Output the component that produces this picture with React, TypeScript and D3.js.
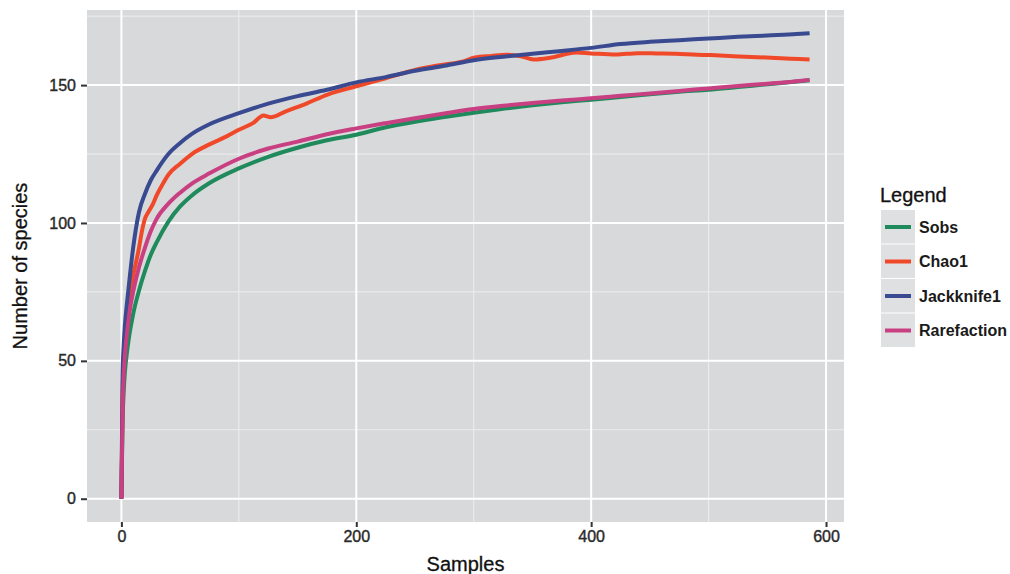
import React, { useEffect, useRef } from "react";
import * as d3 from "d3";

// sample positions shared by the smooth curves
const samples = [0, 1, 2, 3, 5, 7, 10, 15, 20, 25, 30, 40, 50, 60, 75, 100, 125, 150, 175, 200, 225, 250, 275, 300, 325, 350, 375, 400, 425, 450, 475, 500, 525, 550, 575, 586];

const sobs = [0, 28, 39, 46, 54, 60, 67, 75.5, 82.5, 88.5, 93, 100.5, 106, 110, 114.5, 119.8, 124, 127.3, 130, 132, 134.7, 136.7, 138.4, 140, 141.4, 142.7, 143.8, 144.7, 145.7, 146.7, 147.6, 148.3, 149.3, 150.3, 151.3, 151.8];

const rarefaction = [0, 32, 45, 52, 61, 68, 75, 84, 91, 97, 101.5, 107, 111, 114.3, 118, 123.3, 127, 129.5, 132.2, 134.3, 136.2, 138, 139.7, 141.3, 142.5, 143.5, 144.4, 145.2, 146.1, 147, 147.9, 148.8, 149.7, 150.5, 151.4, 151.9];

const jackknife1 = [0, 45, 56, 63, 72, 80, 91, 104, 110.5, 115.5, 119, 125, 129, 132.3, 135.8, 139.8, 143.3, 146, 148.3, 151, 152.9, 155.2, 157, 159, 160.3, 161.4, 162.4, 163.5, 164.9, 165.7, 166.3, 166.9, 167.5, 168, 168.5, 168.8];

// Chao1 is jagged, read at its own positions
const chaoSamples = [0, 1, 2, 3, 5, 7, 10, 15, 17, 20, 23, 27, 30, 35, 40, 50, 60, 75, 90, 100, 112, 121, 127, 140, 158, 175, 200, 225, 250, 271, 290, 301, 315, 328, 340, 351, 366, 387, 400, 421, 440, 456, 472, 490, 501, 521, 549, 570, 586];
const chao1 = [0, 38, 50, 57, 67, 74, 81, 91, 96, 101.5, 104, 107, 110, 114, 117.5, 121.5, 125, 128.5, 131.5, 133.8, 136.2, 139, 138.3, 140.5, 143.4, 146.5, 149.6, 152.5, 155.5, 157.2, 158.5, 160, 160.6, 161, 160.5, 159.3, 160, 161.8, 161.5, 161.1, 161.6, 161.5, 161.4, 161, 160.9, 160.5, 160, 159.6, 159.3];

const seriesNames = ["Sobs", "Chao1", "Jackknife1", "Rarefaction"];
const seriesColors = ["#1f8a5b", "#f0492a", "#3a4a90", "#c83f82"];

const xTicks = [0, 200, 400, 600];
const xMinor = [100, 300, 500];
const yTicks = [0, 50, 100, 150];
const yMinor = [25, 75, 125, 175];

const FONT = "'Liberation Sans', Arial, Helvetica, sans-serif";

export default function App() {
  const svgRef = useRef<SVGSVGElement>(null);

  useEffect(() => {
    const svg = d3.select(svgRef.current);
    svg.selectAll("*").remove();

    const left = 87, right = 844, top = 10, bottom = 522;
    const xMax = 586, yMax = 168.8;

    const x = d3.scaleLinear().domain([-0.05 * xMax, 1.05 * xMax]).range([left, right]);
    const y = d3.scaleLinear().domain([-0.05 * yMax, 1.05 * yMax]).range([bottom, top]);

    svg.append("rect").attr("width", 1010).attr("height", 574).attr("fill", "#fff");
    svg.append("rect")
      .attr("x", left).attr("y", top)
      .attr("width", right - left).attr("height", bottom - top)
      .attr("fill", "#d8d9db");

    const grid = svg.append("g");
    grid.selectAll(".ymin").data(yMinor).join("line")
      .attr("x1", left).attr("x2", right)
      .attr("y1", (d) => y(d)).attr("y2", (d) => y(d))
      .attr("stroke", "#eeeeef").attr("stroke-width", 1);
    grid.selectAll(".xmin").data(xMinor).join("line")
      .attr("y1", top).attr("y2", bottom)
      .attr("x1", (d) => x(d)).attr("x2", (d) => x(d))
      .attr("stroke", "#eeeeef").attr("stroke-width", 1);
    grid.selectAll(".ymaj").data(yTicks).join("line")
      .attr("x1", left).attr("x2", right)
      .attr("y1", (d) => y(d)).attr("y2", (d) => y(d))
      .attr("stroke", "#fff").attr("stroke-width", 2);
    grid.selectAll(".xmaj").data(xTicks).join("line")
      .attr("y1", top).attr("y2", bottom)
      .attr("x1", (d) => x(d)).attr("x2", (d) => x(d))
      .attr("stroke", "#fff").attr("stroke-width", 2);

    // axes
    const xAxis = svg.append("g")
      .attr("transform", `translate(0,${bottom})`)
      .call(d3.axisBottom(x).tickValues(xTicks).tickSize(5).tickPadding(4));
    const yAxis = svg.append("g")
      .attr("transform", `translate(${left},0)`)
      .call(d3.axisLeft(y).tickValues(yTicks).tickSize(6).tickPadding(5));
    [xAxis, yAxis].forEach((a) => {
      a.select(".domain").remove();
      a.selectAll("line").attr("stroke", "#333").attr("stroke-width", 2);
      a.selectAll("text")
        .attr("fill", "#2a2a2a")
        .attr("stroke", "#2a2a2a")
        .attr("stroke-width", 0.4)
        .style("font-family", FONT)
        .style("font-size", "16px");
    });

    const line = d3.line<[number, number]>()
      .x((d) => x(d[0]))
      .y((d) => y(d[1]))
      .curve(d3.curveMonotoneX);

    const seriesData: [number, number][][] = [
      samples.map((s, i) => [s, sobs[i]]),
      chaoSamples.map((s, i) => [s, chao1[i]]),
      samples.map((s, i) => [s, jackknife1[i]]),
      samples.map((s, i) => [s, rarefaction[i]]),
    ];

    svg.append("g").selectAll("path").data(seriesData).join("path")
      .attr("d", (d) => line(d))
      .attr("fill", "none")
      .attr("stroke", (_, i) => seriesColors[i])
      .attr("stroke-width", 4)
      .attr("stroke-linejoin", "round");

    // axis titles
    svg.append("text")
      .attr("x", (left + right) / 2).attr("y", 571)
      .attr("text-anchor", "middle")
      .attr("fill", "#111").attr("stroke", "#111").attr("stroke-width", 0.3)
      .style("font-family", FONT).style("font-size", "20px")
      .text("Samples");
    svg.append("text")
      .attr("transform", `translate(27,${(top + bottom) / 2}) rotate(-90)`)
      .attr("text-anchor", "middle")
      .attr("fill", "#111").attr("stroke", "#111").attr("stroke-width", 0.3)
      .style("font-family", FONT).style("font-size", "20px")
      .text("Number of species");

    // legend
    const lg = svg.append("g").attr("transform", "translate(880,0)");
    lg.append("text")
      .attr("x", 0).attr("y", 202)
      .attr("fill", "#111").attr("stroke", "#111").attr("stroke-width", 0.3)
      .style("font-family", FONT).style("font-size", "20px")
      .text("Legend");
    const items = lg.selectAll(".item").data(seriesNames).join("g")
      .attr("transform", (_, i) => `translate(1,${210 + i * 34.5})`);
    items.append("rect")
      .attr("width", 34).attr("height", 33.5)
      .attr("fill", "#dfe0e2");
    items.append("line")
      .attr("x1", 4).attr("x2", 30)
      .attr("y1", 17).attr("y2", 17)
      .attr("stroke", (_, i) => seriesColors[i])
      .attr("stroke-width", 4);
    items.append("text")
      .attr("x", 38).attr("y", 17)
      .attr("dy", "0.35em")
      .attr("fill", "#1a1a1a")
      .style("font-family", FONT).style("font-size", "16px").style("font-weight", "bold")
      .text((d) => d);
  }, []);

  return (
    <svg
      ref={svgRef}
      width={1010}
      height={574}
      style={{ position: "absolute", left: 0, top: 0, display: "block" }}
    />
  );
}
